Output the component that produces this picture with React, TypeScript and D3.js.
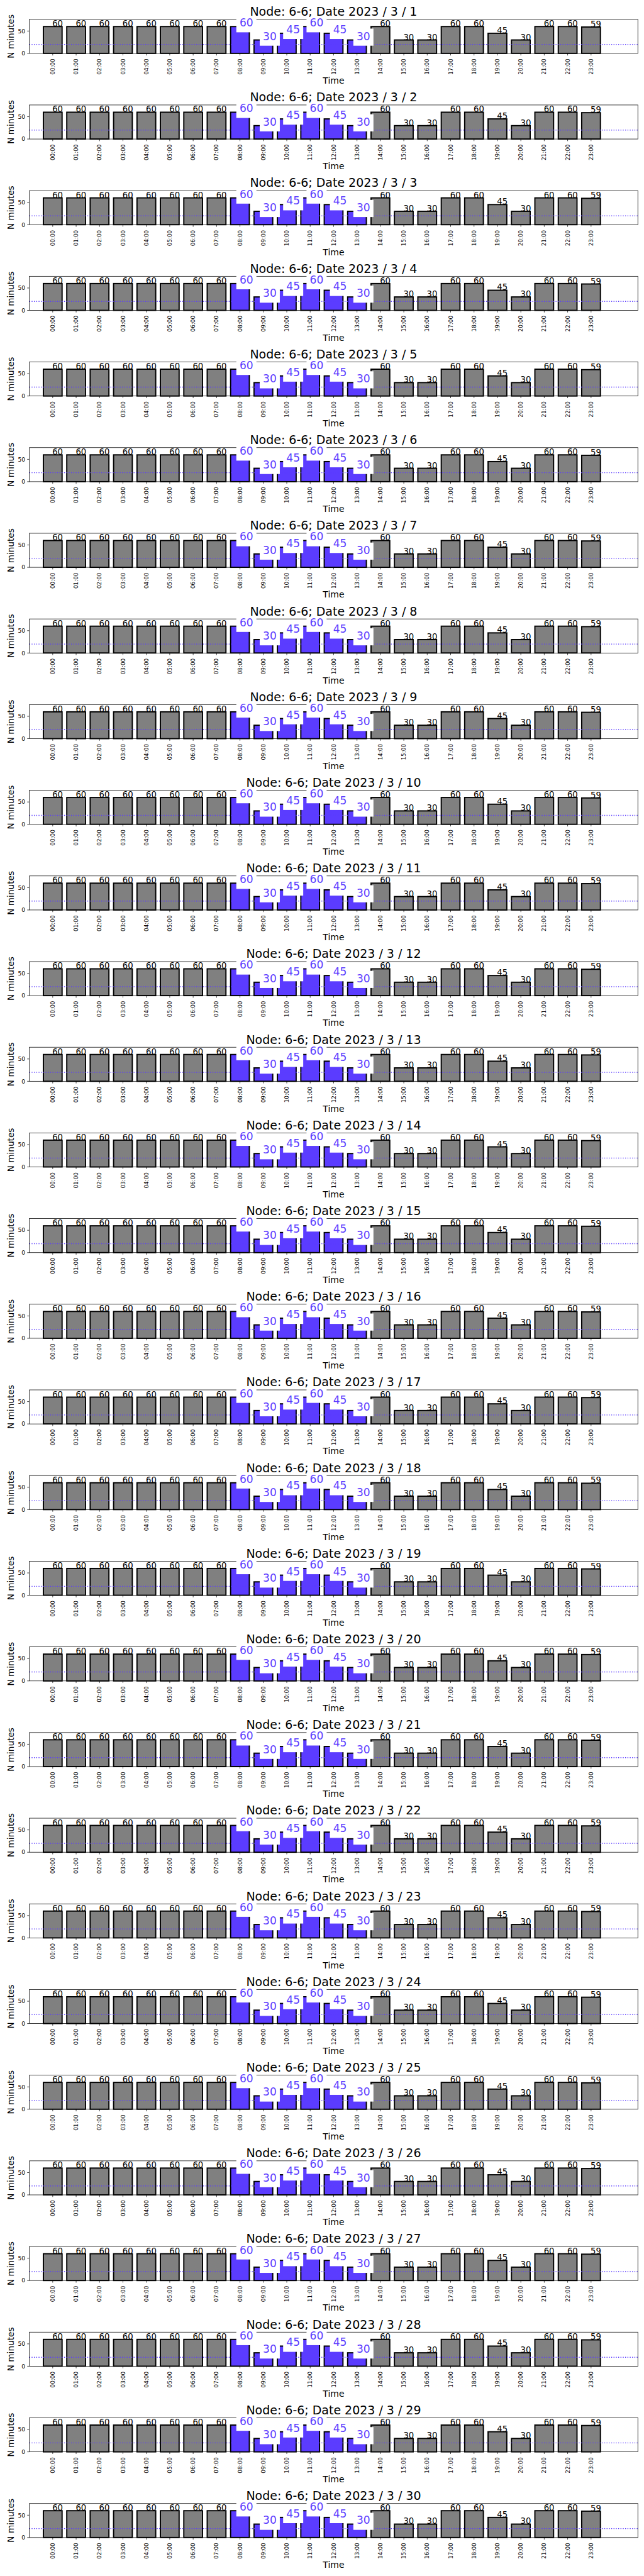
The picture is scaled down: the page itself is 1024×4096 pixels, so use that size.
import React from "react";
import * as d3 from "d3";

const hours = [
  "00:00", "01:00", "02:00", "03:00", "04:00", "05:00", "06:00", "07:00",
  "08:00", "09:00", "10:00", "11:00", "12:00", "13:00", "14:00", "15:00",
  "16:00", "17:00", "18:00", "19:00", "20:00", "21:00", "22:00", "23:00",
];
const minutes = [
  60, 60, 60, 60, 60, 60, 60, 60, 60, 30, 45, 60,
  45, 30, 60, 30, 30, 60, 60, 45, 30, 60, 60, 59,
];
const highlightHours = ["08:00", "09:00", "10:00", "11:00", "12:00", "13:00"];
const days = [
  1, 2, 3, 4, 5, 6, 7, 8, 9, 10, 11, 12, 13, 14, 15,
  16, 17, 18, 19, 20, 21, 22, 23, 24, 25, 26, 27, 28, 29, 30,
];
const yTicks = [0, 50];
const threshold = 20;
const node = "6-6";
const year = 2023;
const month = 3;

const W = 1500;
const H = 6000;
const left = 68.3;
const right = 1485.7;
const top0 = 45;
const panelStep = 199.52;
const panelH = 79.3;
const blue = "#5b3cff";
const font = "DejaVu Sans, sans-serif";

const x = d3.scaleLinear().domain([-1, 25]).range([left, right]);
const y = d3.scaleLinear().domain([0, 76.2]).range([panelH, 0]);
const step = x(1) - x(0);
const barW = step * 0.8;

const Panel = ({ day, top }) => {
  const midX = (left + right) / 2;
  return (
    <g transform={`translate(0,${top})`}>
      {/* bars */}
      {minutes.map((v, i) => (
        <rect
          key={i}
          x={x(i) - barW / 2}
          y={y(v)}
          width={barW}
          height={y(0) - y(v)}
          fill={highlightHours.includes(hours[i]) ? blue : "#808080"}
          stroke="#000"
          strokeWidth={2.8}
        />
      ))}
      {/* threshold line */}
      <line
        x1={left}
        x2={right}
        y1={y(threshold)}
        y2={y(threshold)}
        stroke={blue}
        strokeWidth={2}
        strokeDasharray="2,3.4"
      />
      {/* frame */}
      <rect x={left} y={0} width={right - left} height={panelH} fill="none" stroke="#000" strokeWidth={1.1} />
      {/* y ticks */}
      {yTicks.map(t => (
        <g key={t} transform={`translate(${left},${y(t)})`}>
          <line x1={-4.9} x2={0} stroke="#000" strokeWidth={1.1} />
          <text x={-9.5} dy="0.35em" textAnchor="end" fontSize={13.5} fontFamily={font}>{t}</text>
        </g>
      ))}
      {/* x ticks */}
      {hours.map((h, i) => (
        <g key={h} transform={`translate(${x(i)},${panelH})`}>
          <line y1={0} y2={4.9} stroke="#000" strokeWidth={1.1} />
          <text
            transform="translate(0,12.4) rotate(-90)"
            textAnchor="end"
            dy="0.35em"
            fontSize={13}
            fontFamily={font}
          >
            {h}
          </text>
        </g>
      ))}
      {/* grey value labels */}
      {minutes.map((v, i) =>
        highlightHours.includes(hours[i]) ? null : (
          <text key={i} x={x(i) - 1} y={y(v)} fontSize={19.4} fontFamily={font} fill="#000">
            {v}
          </text>
        )
      )}
      {/* highlighted labels with white box */}
      {minutes.map((v, i) => {
        if (!highlightHours.includes(hours[i])) return null;
        const fs = 25;
        const pad = 7.5;
        const tw = String(v).length * 0.636 * fs;
        const bx = x(i) - 1;
        return (
          <g key={i}>
            <rect
              x={bx - pad}
              y={y(v) - 0.76 * fs - pad}
              width={tw + 2 * pad}
              height={0.76 * fs + 0.236 * fs + 2 * pad}
              fill="#fff"
            />
            <text x={bx} y={y(v)} fontSize={fs} fontFamily={font} fill={blue}>
              {v}
            </text>
          </g>
        );
      })}
      {/* axis labels */}
      <text
        transform={`translate(31.5,${panelH / 2}) rotate(-90)`}
        textAnchor="middle"
        fontSize={20}
        fontFamily={font}
      >
        N minutes
      </text>
      <text x={midX} y={150} textAnchor="middle" fontSize={20.5} fontFamily={font}>
        Time
      </text>
      <text x={midX} y={-8.3} textAnchor="middle" fontSize={27.8} fontFamily={font}>
        {`Node: ${node}; Date ${year} / ${month} / ${day}`}
      </text>
    </g>
  );
};

const App = () => (
  <svg
    width={1024}
    height={4096}
    viewBox={`0 0 ${W} ${H}`}
    style={{ position: "absolute", left: 0, top: 0, display: "block", background: "#fff" }}
  >
    <rect width={W} height={H} fill="#fff" />
    {days.map((d, k) => (
      <Panel key={d} day={d} top={top0 + k * panelStep} />
    ))}
  </svg>
);

export default App;
